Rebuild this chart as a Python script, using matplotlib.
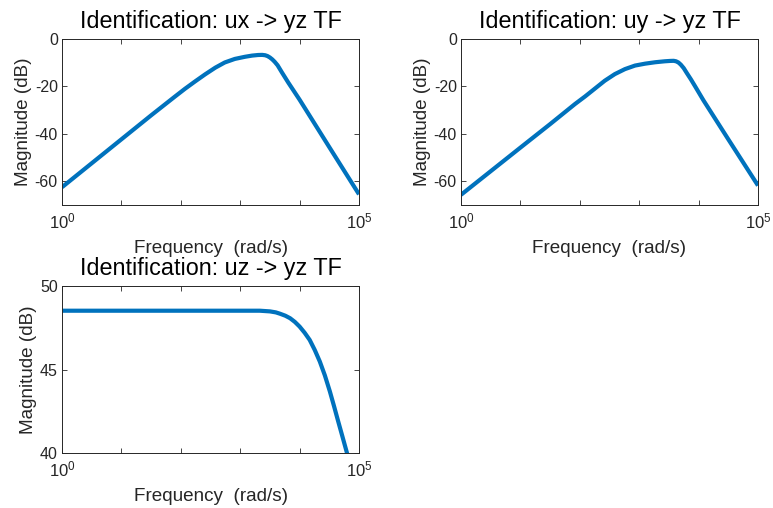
import numpy as np
import matplotlib
matplotlib.use("Agg")
import matplotlib.pyplot as plt
from matplotlib.ticker import FixedLocator, FixedFormatter

plt.rcParams['font.family'] = ['Liberation Sans', 'DejaVu Sans']
plt.rcParams['mathtext.fontset'] = 'custom'
plt.rcParams['mathtext.rm'] = 'Liberation Sans'
plt.rcParams['mathtext.it'] = 'Liberation Sans'

# ---- data (log10 of frequency, magnitude in dB) ----
ux_logw = [0.0, 1.0, 1.5, 1.9, 2.07, 2.24, 2.41, 2.58, 2.74, 2.91, 3.08, 3.2, 3.3, 3.37,
           3.42, 3.46, 3.5, 3.54, 3.58, 3.63, 3.7, 3.81, 4.0, 4.5, 5.0]
ux_mag  = [-62.5, -42.3, -32.2, -24.3, -21.0, -17.9, -14.9, -12.1, -9.9, -8.4, -7.5, -7.0, -6.75, -6.7,
           -6.85, -7.2, -7.8, -8.6, -9.6, -11.1, -14.0, -18.4, -25.6, -45.6, -65.5]

uy_logw = [0.0, 1.0, 1.5, 1.92, 2.09, 2.26, 2.42, 2.59, 2.76, 2.93, 3.1, 3.27, 3.43, 3.52,
           3.58, 3.62, 3.66, 3.7, 3.75, 3.8, 3.87, 3.94, 4.08, 4.5, 5.0]
uy_mag  = [-65.7, -45.8, -35.9, -27.4, -24.2, -20.8, -17.6, -14.8, -12.7, -11.2, -10.4, -9.8, -9.4, -9.25,
           -9.2, -9.4, -9.9, -10.8, -12.3, -14.3, -17.0, -19.9, -25.8, -42.3, -61.8]

uz_logw = [0.0, 1.0, 2.0, 3.0, 3.33, 3.5, 3.6, 3.67, 3.76, 3.84, 3.92, 4.0, 4.085, 4.17, 4.255, 4.34,
           4.425, 4.51, 4.58, 4.65, 4.72, 4.79, 4.84]
uz_mag  = [48.52, 48.52, 48.52, 48.52, 48.52, 48.48, 48.42, 48.34, 48.22, 48.07, 47.85, 47.57, 47.2, 46.77, 46.17, 45.48,
           44.65, 43.68, 42.8, 41.89, 41.0, 40.1, 39.45]

titles = ["Identification: ux -> yz TF", "Identification: uy -> yz TF", "Identification: uz -> yz TF"]
xlabel = "Frequency  (rad/s)"
ylabel = "Magnitude (dB)"
ylims = [(-70, 0), (-70, 0), (40, 50)]
yticks = [[-60, -40, -20, 0], [-60, -40, -20, 0], [40, 45, 50]]
xtick_pos = [1e0, 1e1, 1e2, 1e3, 1e4, 1e5]
xtick_lab = [r"$10^{0}$", "", "", "", "", r"$10^{5}$"]

W, H = 773, 508
fig = plt.figure(figsize=(W / 100, H / 100), dpi=100)

boxes = [(62, 39, 359, 205), (461, 39, 758, 205), (62, 286, 359, 453)]
series = [(ux_logw, ux_mag), (uy_logw, uy_mag), (uz_logw, uz_mag)]
axcol = '#262626'

for i, ((l, t, r, b), (lw_, mg)) in enumerate(zip(boxes, series)):
    ax = fig.add_axes([l / W, 1 - b / H, (r - l) / W, (b - t) / H])
    w = np.power(10.0, np.array(lw_))
    ax.plot(w, mg, color='#0072BD', linewidth=3.0, solid_capstyle='butt', solid_joinstyle='round')
    ax.set_xscale('log')
    ax.set_xlim(1e0, 1e5)
    ax.set_ylim(*ylims[i])
    ax.xaxis.set_major_locator(FixedLocator(xtick_pos))
    ax.xaxis.set_major_formatter(FixedFormatter(xtick_lab))
    ax.xaxis.set_minor_locator(FixedLocator([]))
    ax.set_yticks(yticks[i])
    ax.set_yticklabels([str(v) for v in yticks[i]])
    ax.tick_params(axis='both', which='both', direction='in', top=True, right=True,
                   length=3.5, width=0.6, colors=axcol, labelsize=11.5, pad=3)
    ax.tick_params(axis='x', labelsize=12, pad=5)
    for s in ax.spines.values():
        s.set_color(axcol)
        s.set_linewidth(0.7)
    ax.set_title(titles[i], fontsize=16.8, color='black', pad=8)
    ax.set_xlabel(xlabel, fontsize=13.6, color=axcol, labelpad=6)
    ax.set_ylabel(ylabel, fontsize=13.6, color=axcol, labelpad=2)

fig.savefig("out.png", dpi=100)
